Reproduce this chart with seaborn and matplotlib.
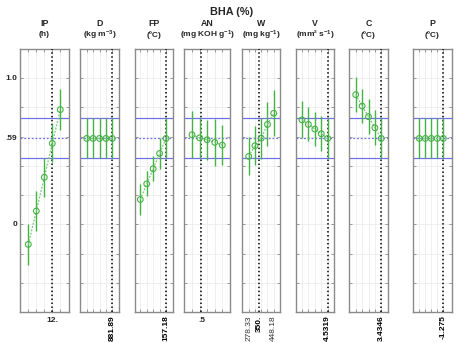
import matplotlib
matplotlib.use("Agg")
import matplotlib.pyplot as plt
import matplotlib.transforms as mtransforms
import seaborn as sns
import pandas as pd
import numpy as np

# ---------------- data ----------------
factors = ["IP", "D", "FP", "AN", "W", "V", "C", "P"]
units = ["(h)", "(kg m$^{-3}$)", "(ºC)", "(mg KOH g$^{-1}$)", "(mg kg$^{-1}$)",
         "(mm² s$^{-1}$)", "(ºC)", "(ºC)"]
levels = [0, 1, 2, 3, 4]

IP_y = [-0.137, 0.091, 0.322, 0.554, 0.785]
IP_err = [0.14, 0.135, 0.134, 0.13, 0.14]
D_y = [0.588, 0.588, 0.588, 0.588, 0.588]
D_err = [0.137, 0.137, 0.137, 0.137, 0.137]
FP_y = [0.170, 0.277, 0.380, 0.485, 0.588]
FP_err = [0.105, 0.085, 0.085, 0.105, 0.137]
AN_y = [0.613, 0.592, 0.579, 0.561, 0.542]
AN_err = [0.16, 0.137, 0.137, 0.16, 0.135]
W_y = [0.465, 0.538, 0.590, 0.684, 0.760]
W_err = [0.13, 0.135, 0.14, 0.15, 0.157]
V_y = [0.715, 0.684, 0.652, 0.620, 0.588]
V_err = [0.126, 0.117, 0.115, 0.12, 0.137]
C_y = [0.888, 0.810, 0.737, 0.661, 0.588]
C_err = [0.122, 0.117, 0.118, 0.119, 0.137]
P_y = [0.588, 0.588, 0.588, 0.588, 0.588]
P_err = [0.137, 0.137, 0.137, 0.137, 0.137]

series_y = [IP_y, D_y, FP_y, AN_y, W_y, V_y, C_y, P_y]
series_err = [IP_err, D_err, FP_err, AN_err, W_err, V_err, C_err, P_err]

# current setting (position on level scale) and its tick labels
current_pos = [3, 4, 4, 1.25, 1.69, 4, 4, 4]
xtick_labels = [
    [(3, "12.", True, 0)],
    [(4, "881.89", True, 90)],
    [(4, "157.18", True, 90)],
    [(1.25, ".5", True, 0)],
    [(0, "278.33", False, 90), (1.69, "350.", True, 90), (4, "448.18", False, 90)],
    [(4, "4.5319", True, 90)],
    [(4, "3.4346", True, 90)],
    [(4, "-1.275", True, 90)],
]

y_pred = 0.588
y_upper = 0.725
y_lower = 0.451
ytick_vals = [0.0, 0.59, 1.0]
ytick_text = ["0", ".59", "1.0"]

# ---------------- layout (pixels) ----------------
W_PX, H_PX = 457, 343
panel_px = [(20.3, 68.7), (80, 119), (134.7, 172.7), (184.3, 230),
            (242, 280), (296, 334), (349, 388), (412.5, 451.5)]
xlims = [(-1.0, 5.05), (-1.05, 5.05), (-0.87, 5.04), (-1.02, 5.02),
         (-1.07, 5.0), (-0.93, 4.98), (-1.05, 5.05), (-1.13, 5.37)]
top_px, bot_px = 49, 312

sns.set_theme(style="white")
plt.rcParams["font.family"] = ["Liberation Sans", "DejaVu Sans"]
plt.rcParams["mathtext.fontset"] = "custom"
plt.rcParams["mathtext.rm"] = "Liberation Sans:bold"
plt.rcParams["mathtext.it"] = "Liberation Sans:bold"
plt.rcParams["mathtext.bf"] = "Liberation Sans:bold"

fig = plt.figure(figsize=(W_PX / 100, H_PX / 100), dpi=100)
fig.patch.set_facecolor("white")

green = "#45b245"
green_light = "#78c878"
blue = "#7070e8"
spine_c = "#8a8a8a"

for i, name in enumerate(factors):
    l, r = panel_px[i]
    ax = fig.add_axes([l / W_PX, (H_PX - bot_px) / H_PX, (r - l) / W_PX,
                       (bot_px - top_px) / H_PX])
    ax.set_facecolor("white")
    df = pd.DataFrame({"x": levels, "y": series_y[i]})

    # grid
    ax.set_xlim(*xlims[i])
    ax.set_ylim(-0.6, 1.2)
    ax.set_xticks(levels)
    ax.set_yticks([-0.4, -0.2, 0.0, 0.2, 0.4, 0.6, 0.8, 1.0])
    ax.grid(True, color="#ececec", lw=0.6)
    ax.set_axisbelow(True)
    ax.tick_params(axis="both", direction="in", length=2.5, width=0.6,
                   colors=spine_c, top=True, right=True, bottom=True, left=True,
                   labelbottom=False, labelleft=False)
    for s in ax.spines.values():
        s.set_color(spine_c)
        s.set_linewidth(1.0)

    # reference lines
    ax.axhline(y_upper, color=blue, lw=0.9, zorder=2)
    ax.axhline(y_lower, color=blue, lw=0.9, zorder=2)
    ax.axhline(y_pred, color=blue, lw=0.9, ls=(0, (1.5, 1.5)), zorder=2)
    ax.axvline(current_pos[i], color="black", lw=1.1, ls=(0, (1, 1.6)), zorder=3)

    # error bars + points
    ax.errorbar(levels, series_y[i], yerr=series_err[i], fmt="none",
                ecolor=green, elinewidth=1.0, capsize=0, zorder=4)
    sns.lineplot(data=df, x="x", y="y", ax=ax, color=green_light, lw=0.9,
                 linestyle=(0, (1.5, 1.2)), zorder=4, legend=False)
    sns.scatterplot(data=df, x="x", y="y", ax=ax, marker="o", s=17,
                    facecolor="none", edgecolor=green, linewidth=0.8,
                    zorder=5, legend=False)
    ax.set_xlabel("")
    ax.set_ylabel("")
    ax.set_xlim(*xlims[i])
    ax.set_ylim(-0.6, 1.2)

    # titles
    ax.text(0.5, 1.0 + 25.5 / (bot_px - top_px), name, transform=ax.transAxes,
            ha="center", va="center", fontsize=6.3, fontweight="bold")
    ax.text(0.5, 1.0 + 14.0 / (bot_px - top_px), units[i], transform=ax.transAxes,
            ha="center", va="center", fontsize=6.0, fontweight="bold")

    # x tick labels
    trans = mtransforms.blended_transform_factory(ax.transData, ax.transAxes)
    for (xp, lab, bold, rot) in xtick_labels[i]:
        if rot == 0:
            ax.text(xp, -4.5 / (bot_px - top_px), lab, transform=trans,
                    ha="center", va="top", fontsize=6.0,
                    fontweight="bold" if bold else "normal")
        else:
            ax.text(xp, -3.5 / (bot_px - top_px), lab, transform=trans,
                    ha="center", va="top", rotation=90, fontsize=6.0,
                    fontweight="bold" if bold else "normal",
                    color="black" if bold else "#333333")

    if i == 0:
        ttrans = mtransforms.blended_transform_factory(fig.transFigure, ax.transData)
        for yv, yt in zip(ytick_vals, ytick_text):
            ax.text(17.5 / W_PX, yv, yt, transform=ttrans, ha="right",
                    va="center", fontsize=6.0, fontweight="bold")

fig.text(232 / W_PX, 1 - 12 / H_PX, "BHA (%)", ha="center", va="center",
         fontsize=7.8, fontweight="bold")

fig.savefig("out.png", dpi=100, facecolor="white")
